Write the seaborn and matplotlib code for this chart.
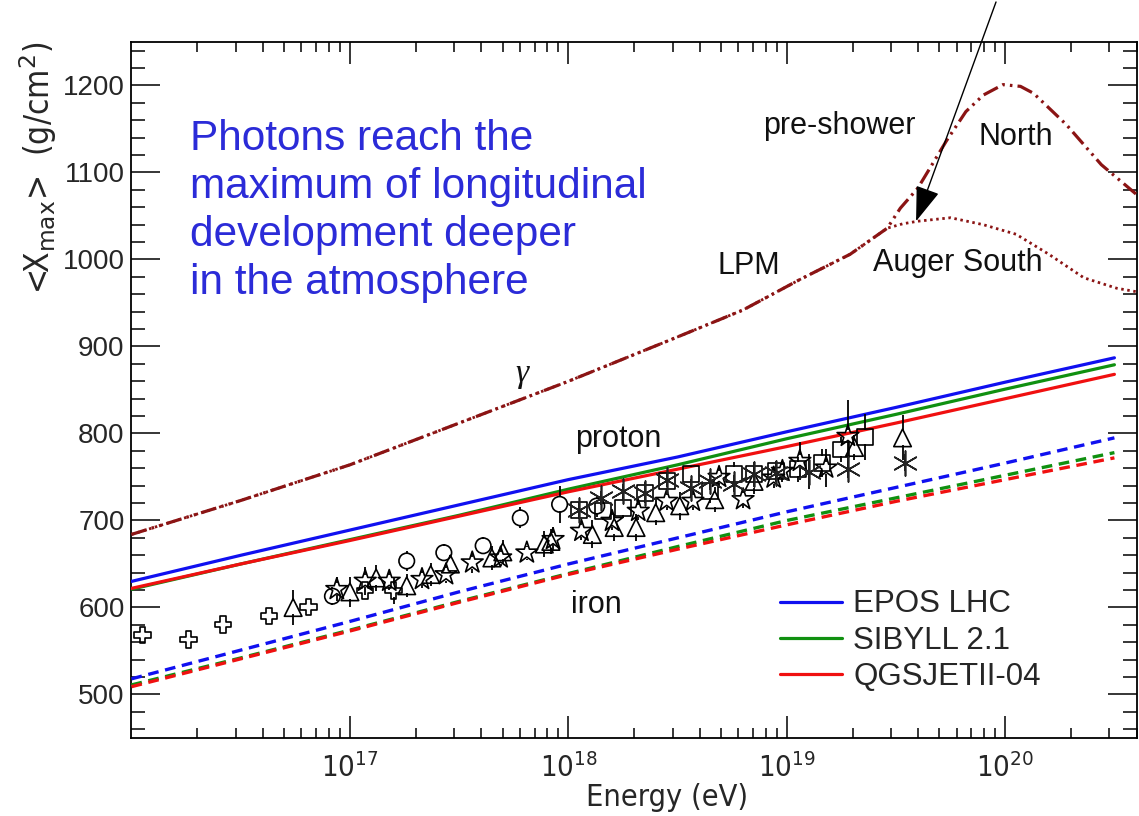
import numpy as np
import matplotlib
matplotlib.use("Agg")
import matplotlib.pyplot as plt
import seaborn as sns
from matplotlib import font_manager as fm
from matplotlib.ticker import FixedLocator, MultipleLocator, FuncFormatter, NullFormatter

# ---------------- model predictions: <Xmax> vs log10(E/eV) ----------------
lg_model = [16.0, 16.5, 17.0, 17.5, 18.0, 18.5, 19.0, 19.5, 20.0, 20.5]
epos_p = [630, 660, 689, 718, 747, 773, 802, 830, 859, 887]
sibyll_p = [621, 650, 678, 706, 736, 764, 794, 822, 851, 879]
qgsjet_p = [622, 650, 677, 705, 733, 759, 785, 812, 840, 868]
epos_fe = [518, 551, 584, 618, 650, 680, 710, 738, 766, 795]
sibyll_fe = [511, 542, 574, 607, 639, 670, 700, 726, 752, 778]
qgsjet_fe = [509, 541, 573, 606, 638, 667, 695, 722, 747, 772]

# photon showers (LPM effect, pre-shower in the geomagnetic field)
lg_gamma_north = [16.0, 16.5, 17.0, 17.5, 18.0, 18.5, 18.8, 19.06, 19.29, 19.46, 19.52,
                  19.6, 19.73, 19.82, 19.9, 19.99, 20.07, 20.13, 20.28, 20.44, 20.6]
xmax_gamma_north = [684, 723, 764, 812, 860, 911, 942, 977, 1006, 1036, 1059,
                    1082, 1136, 1170, 1189, 1201, 1199, 1191, 1155, 1109, 1075]
lg_gamma_south = [16.0, 16.5, 17.0, 17.5, 18.0, 18.5, 18.8, 19.06, 19.29, 19.46, 19.53,
                  19.6, 19.75, 19.9, 20.05, 20.2, 20.36, 20.51, 20.6]
xmax_gamma_south = [684, 723, 764, 812, 860, 911, 942, 977, 1006, 1036, 1041,
                    1044, 1048, 1040, 1029, 1006, 979, 967, 963]

# ---------------- measurements ----------------
lg_cross = [16.05, 16.26, 16.42, 16.63, 16.81, 17.07, 17.20]
xmax_cross = [568.6, 563.0, 580.5, 590.0, 600.5, 619.5, 619.5]
err_cross = [3, 3, 3, 3, 3, 4, 16]

lg_tri = [16.74, 17.0, 17.12, 17.26, 17.37, 17.46, 17.65, 17.70, 17.89, 17.92,
          18.11, 18.21, 18.31, 18.40, 18.51, 18.67, 18.85, 19.31, 19.53]
xmax_tri = [600, 618, 634, 625, 638, 650, 657, 664, 673, 676,
            684, 692, 692, 709, 717, 724, 745, 784, 795]
err_tri = [20, 17, 15, 13, 13, 10, 14, 14, 15, 14,
           16, 15, 15, 14, 16, 14, 15, 14, 26]

lg_circ = [16.92, 17.26, 17.43, 17.61, 17.78, 17.96, 18.13]
xmax_circ = [613, 653.5, 663, 671, 703, 718.6, 716.6]
err_circ = [10, 11, 10, 10, 12, 21, 13]

lg_star = [16.94, 17.07, 17.18, 17.33, 17.44, 17.56, 17.69, 17.81, 17.93, 18.06,
           18.20, 18.32, 18.45, 18.57, 18.69, 18.80, 18.94, 18.98, 19.06, 19.18, 19.28]
xmax_star = [621, 630.5, 630.5, 632.5, 638, 651.6, 657.3, 663, 678.4, 687.9,
             699.4, 710.9, 722.4, 722.4, 749.9, 724.3, 749.1, 756.8, 768.3, 760.6, 797]
err_star = [14, 16, 10, 10, 10, 12, 10, 8, 14, 10,
            10, 10, 10, 10, 12, 10, 12, 12, 22, 22, 42]

lg_sq = [18.05, 18.16, 18.25, 18.35, 18.45, 18.56, 18.65, 18.76, 18.85, 18.95,
         19.05, 19.16, 19.25, 19.36]
xmax_sq = [711.7, 710.9, 714.7, 731.9, 745.4, 753, 733.9, 753, 753, 756.8,
           758.8, 766.4, 781.7, 795.9]
err_sq = [10, 10, 12, 12, 10, 10, 14, 14, 14, 12, 14, 16, 14, 26]

lg_ast = [18.05, 18.15, 18.25, 18.35, 18.45, 18.56, 18.65, 18.76, 18.85, 18.95,
          19.10, 19.28, 19.54]
xmax_ast = [711.7, 726.2, 733.9, 731.9, 746.2, 737.7, 745.4, 742.3, 753, 755,
            756, 758.8, 766.4]
err_ast = [8, 8, 8, 8, 8, 10, 10, 10, 10, 10, 20, 10, 10]

legend_labels = ["EPOS LHC", "SIBYLL 2.1", "QGSJETII-04"]
model_colors = ["#1010f0", "#109010", "#f01010"]
gamma_color = "#8b1414"
note_color = "#2b2bd8"


def ev(lg):
    return 10.0 ** np.asarray(lg, dtype=float)


# ---------------- fonts ----------------
sns.set_theme(style="ticks")
plt.rcParams["font.family"] = ["Liberation Sans", "DejaVu Sans"]
available = {f.name for f in fm.fontManager.ttflist}
if "Liberation Sans Narrow" in available:
    narrow_fp = fm.FontProperties(family="Liberation Sans Narrow")
    narrow_pattern = "Liberation Sans Narrow"
else:
    cand = fm.FontProperties(family="DejaVu Sans", stretch="condensed")
    if "Condensed" in fm.findfont(cand):
        narrow_fp = cand
        narrow_pattern = "DejaVu Sans:stretch=condensed"
    else:
        narrow_fp = fm.FontProperties(family="Roboto")
        narrow_pattern = "Roboto"
plt.rcParams["mathtext.fontset"] = "custom"
plt.rcParams["mathtext.rm"] = narrow_pattern
plt.rcParams["mathtext.it"] = narrow_pattern
plt.rcParams["mathtext.bf"] = narrow_pattern

fig = plt.figure(figsize=(11.39, 8.16), dpi=100)
fig.patch.set_facecolor("white")
ax = fig.add_axes([0.11545, 0.09559, 0.88253, 0.85294])
ax.set_facecolor("white")
ax.set_xscale("log")

# ---------------- model curves ----------------
handles = []
for vals, col, lab in zip([epos_p, sibyll_p, qgsjet_p], model_colors, legend_labels):
    sns.lineplot(x=ev(lg_model), y=vals, color=col, lw=2.3, ax=ax, label=lab, zorder=3)
    handles.append(ax.lines[-1])
for vals, col in zip([epos_fe, sibyll_fe, qgsjet_fe], model_colors):
    sns.lineplot(x=ev(lg_model), y=vals, color=col, lw=2.4, ax=ax, zorder=3)
    ax.lines[-1].set_dashes([3.2, 2.0])

sns.lineplot(x=ev(lg_gamma_south), y=xmax_gamma_south, color=gamma_color, lw=2.0, ax=ax, zorder=3)
ax.lines[-1].set_dashes([0.9, 1.3])
sns.lineplot(x=ev(lg_gamma_north), y=xmax_gamma_north, color=gamma_color, lw=2.3, ax=ax, zorder=3)
ax.lines[-1].set_dashes([5.0, 1.6, 0.8, 1.6, 0.8, 1.6])


def open_errorbars(lg, xm, er, gap):
    """Vertical error bars that stop at the edge of an open marker."""
    x = ev(lg)
    y = np.asarray(xm, dtype=float)
    e = np.asarray(er, dtype=float)
    m = e > gap
    ax.vlines(x[m], y[m] + gap, y[m] + e[m], color="black", lw=1.3, zorder=4)
    ax.vlines(x[m], y[m] - e[m], y[m] - gap, color="black", lw=1.3, zorder=4)


# ---------------- data points ----------------
sets = [
    (lg_cross, xmax_cross, err_cross, "P", 140, 8),
    (lg_tri, xmax_tri, err_tri, "^", 160, 8),
    (lg_circ, xmax_circ, err_circ, "o", 125, 8),
    (lg_star, xmax_star, err_star, "*", 270, 7),
    (lg_sq, xmax_sq, err_sq, "s", 130, 8),
]
for lg, xm, er, mk, s, gap in sets:
    open_errorbars(lg, xm, er, gap)
    sns.scatterplot(x=ev(lg), y=xm, marker=mk, s=s, color="black", facecolors="none",
                    edgecolor="black", linewidth=1.2, ax=ax, zorder=5, legend=False)

ax.errorbar(ev(lg_ast), xmax_ast, yerr=err_ast, fmt="none", ecolor="black", elinewidth=1.3,
            capsize=0, zorder=4)
sns.scatterplot(x=ev(lg_ast), y=xmax_ast, marker=(6, 2, 0), s=320, color="#222222",
                linewidth=1.2, ax=ax, zorder=5, legend=False)

# ---------------- axes ----------------
ax.set_xlim(1e16, 4e20)
ax.set_ylim(450, 1250)
ax.xaxis.set_major_locator(FixedLocator([1e17, 1e18, 1e19, 1e20]))
ax.xaxis.set_minor_locator(FixedLocator([m * 10.0 ** d for d in range(16, 21) for m in range(2, 10)]))
ax.xaxis.set_major_formatter(FuncFormatter(lambda v, p: r"$\mathregular{10^{%d}}$" % round(np.log10(v))))
ax.xaxis.set_minor_formatter(NullFormatter())
ax.yaxis.set_major_locator(MultipleLocator(100))
ax.yaxis.set_minor_locator(MultipleLocator(20))

ax.tick_params(which="both", direction="in", top=True, right=True, color="black", width=1.1)
ax.tick_params(axis="x", which="major", length=15.5, pad=11, labelsize=21)
ax.tick_params(axis="x", which="minor", length=7.5)
ax.tick_params(axis="y", which="major", length=21, pad=5, labelsize=20)
ax.tick_params(axis="y", which="minor", length=10)
for lab in ax.get_xticklabels():
    lab.set_fontproperties(narrow_fp)
    lab.set_fontsize(21)
for sp in ax.spines.values():
    sp.set_linewidth(1.3)
    sp.set_color("black")

ax.set_xlabel("Energy (eV)", fontproperties=narrow_fp, fontsize=22)
ax.xaxis.set_label_coords(0.533, -0.064)
ax.set_ylabel(r"<X$_{\mathrm{max}}$>  (g/cm$^{2}$)", fontproperties=narrow_fp, fontsize=24, loc="top")
ax.yaxis.set_label_coords(-0.072, 1.0)

# ---------------- legend ----------------
ax.legend(handles=handles, labels=legend_labels, loc="upper left", bbox_to_anchor=(0.645, 0.2134),
          frameon=False, fontsize=22.5, handlelength=2.0, handletextpad=0.35,
          labelspacing=0.2, borderpad=0, borderaxespad=0)

# ---------------- annotations ----------------
lab_kw = dict(fontsize=22, color="#111111", va="baseline", ha="left")
ax.text(10 ** 18.892, 1143.7, "pre-shower", **lab_kw)
ax.text(10 ** 19.876, 1131.1, "North", **lab_kw)
ax.text(10 ** 18.685, 983.0, "LPM", **lab_kw)
ax.text(10 ** 19.395, 986.5, "Auger South", **lab_kw)
ax.text(10 ** 18.031, 784.4, "proton", **lab_kw)
ax.text(10 ** 18.013, 593.8, "iron", **lab_kw)
ax.text(10 ** 17.788, 868.2, "γ", fontsize=24, color="#111111", ha="center", va="center",
        family=["Liberation Serif", "DejaVu Serif"], style="italic")

ax.text(10 ** 16.268, 960.0,
        "Photons reach the\nmaximum of longitudinal\ndevelopment deeper\nin the atmosphere",
        fontsize=30.5, color=note_color, va="baseline", ha="left", linespacing=1.26)

ax.annotate("", xy=(10 ** 19.592, 1044), xytext=(10 ** 19.958, 1296),
            arrowprops=dict(arrowstyle="-|>,head_length=1.1,head_width=0.38", mutation_scale=20,
                            lw=1.0, color="black", shrinkA=0, shrinkB=0),
            annotation_clip=False)

fig.savefig("out.png", dpi=100, facecolor="white")
